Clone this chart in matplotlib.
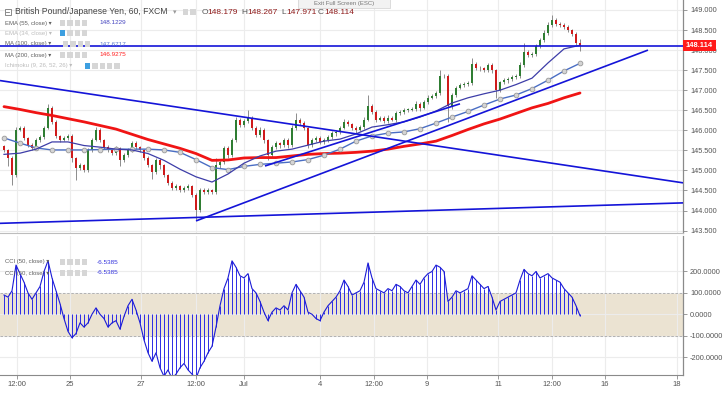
import matplotlib
matplotlib.use("Agg")
import matplotlib.pyplot as plt
import numpy as np
from matplotlib.patches import Rectangle

plt.rcParams['font.family'] = ['Liberation Sans', 'DejaVu Sans']

# ---------------- data ----------------
first_open = 145.60
closes = [
    145.51, 145.31, 144.89, 146.01, 146.06, 145.81, 145.63, 145.56, 145.76, 145.83,
    146.06, 146.56, 146.21, 145.86, 145.76, 145.81, 145.86, 145.31, 145.06, 145.13,
    145.01, 145.51, 145.76, 146.01, 145.76, 145.58, 145.51, 145.43, 145.56, 145.26,
    145.38, 145.51, 145.68, 145.58, 145.51, 145.31, 145.13, 144.96, 145.26, 145.13,
    144.89, 144.69, 144.56, 144.61, 144.51, 144.56, 144.61, 144.39, 144.01, 144.51,
    144.46, 144.51, 144.46, 145.13, 145.21, 145.56, 145.38, 145.76, 146.26, 146.13,
    146.23, 146.31, 146.06, 145.88, 146.01, 145.76, 145.38, 145.58, 145.68, 145.63,
    145.76, 145.63, 146.06, 146.26, 146.18, 146.06, 145.63, 145.76, 145.81, 145.71,
    145.76, 145.83, 145.93, 145.96, 146.06, 146.21, 146.16, 146.06, 146.01, 146.08,
    146.26, 146.61, 146.46, 146.26, 146.31, 146.23, 146.31, 146.26, 146.43, 146.46,
    146.51, 146.51, 146.53, 146.66, 146.56, 146.71, 146.81, 146.86, 146.93, 147.35,
    147.35, 146.60, 146.88, 147.06, 147.13, 147.16, 147.18, 147.65, 147.55, 147.55,
    147.50, 147.63, 147.50, 147.00, 147.20, 147.25, 147.28, 147.33, 147.35, 147.63,
    147.95, 147.88, 147.90, 148.10, 148.25, 148.43, 148.63, 148.75, 148.65, 148.63,
    148.58, 148.50, 148.40, 148.179, 148.114,
]
# upper / lower wick lengths in hundredths of a yen
upper_wick = [
    4, 3, 5, 6, 5, 4, 3, 5, 4, 6,
    5, 10, 5, 4, 3, 5, 6, 4, 3, 5,
    4, 5, 6, 7, 4, 3, 5, 4, 6, 3,
    5, 4, 5, 6, 4, 3, 5, 4, 6, 5,
    4, 3, 5, 4, 3, 5, 4, 3, 4, 5,
    4, 5, 3, 17, 6, 5, 4, 6, 7, 5,
    6, 20, 5, 4, 6, 4, 3, 6, 5, 4,
    5, 4, 6, 17, 5, 4, 3, 5, 6, 4,
    4, 5, 6, 4, 5, 7, 4, 3, 5, 4,
    6, 27, 5, 4, 5, 4, 6, 5, 6, 4,
    5, 4, 6, 7, 4, 5, 6, 5, 4, 15,
    6, 5, 4, 5, 6, 4, 5, 15, 6, 5,
    4, 6, 5, 3, 4, 5, 4, 6, 5, 7,
    23, 5, 4, 6, 5, 7, 6, 13, 5, 4,
    5, 4, 3, 4, 8.8,
]
lower_wick = [
    6, 20, 25, 5, 4, 6, 5, 4, 5, 4,
    5, 4, 6, 5, 4, 3, 5, 10, 30, 5,
    6, 4, 5, 3, 5, 4, 6, 5, 4, 15,
    5, 4, 6, 5, 4, 6, 5, 17, 4, 10,
    6, 5, 4, 5, 6, 4, 5, 6, 25, 5,
    6, 4, 5, 4, 6, 5, 7, 5, 4, 6,
    5, 4, 6, 5, 4, 7, 12, 5, 4, 6,
    5, 6, 4, 5, 4, 6, 7, 5, 4, 5,
    4, 5, 4, 6, 5, 4, 5, 6, 7, 4,
    5, 4, 6, 5, 4, 6, 5, 4, 5, 4,
    5, 6, 4, 5, 7, 4, 5, 4, 5, 6,
    5, 39, 6, 5, 4, 5, 6, 5, 4, 6,
    5, 4, 6, 19, 5, 4, 6, 5, 4, 5,
    6, 5, 4, 5, 6, 4, 5, 6, 4, 5,
    5, 4, 6, 4, 14.3,
]
# indicator values sampled every 4th bar
ema55 = [145.40, 145.43, 145.53, 145.71, 145.71, 145.62, 145.58, 145.53, 145.51, 145.42,
         145.25, 145.03, 144.84, 144.71, 144.91, 145.18, 145.36, 145.48, 145.53, 145.63,
         145.73, 145.78, 145.91, 146.08, 146.14, 146.21, 146.33, 146.48, 146.68, 146.81,
         146.91, 147.00, 147.14, 147.30, 147.68, 148.03, 148.12]
ma100 = [145.81, 145.68, 145.56, 145.51, 145.51, 145.51, 145.52, 145.53, 145.53, 145.53,
         145.51, 145.45, 145.27, 145.07, 145.02, 145.10, 145.15, 145.18, 145.21, 145.27,
         145.38, 145.53, 145.73, 145.86, 145.93, 145.96, 146.04, 146.18, 146.33, 146.47,
         146.63, 146.78, 146.88, 147.04, 147.25, 147.48, 147.67]
ma200 = [146.59, 146.52, 146.44, 146.37, 146.29, 146.21, 146.12, 146.03, 145.90, 145.77,
         145.66, 145.55, 145.42, 145.25, 145.26, 145.31, 145.32, 145.32, 145.36, 145.40,
         145.42, 145.43, 145.45, 145.48, 145.53, 145.60, 145.66, 145.73, 145.87, 146.02,
         146.16, 146.28, 146.42, 146.56, 146.67, 146.81, 146.93]
cci = [
    90, 80, 110, 230, 190, 150, 100, 70, 100, 130,
    200, 250, 170, 110, 50, -20, -80, -110, -90, -40,
    -60, -40, 0, 30, 0, -20, -60, -40, -30, -70,
    -10, 40, 70, 20, -40, -120, -180, -220, -180, -250,
    -290, -260, -300, -280, -250, -230, -260, -280, -300, -250,
    -220, -180, -150, -60, 40, 120, 170, 250, 220, 180,
    170, 190, 120, 100, 60, 10, -30, 10, 30, 20,
    40, 20, 100, 140, 110, 80, 10, 0, -20, -30,
    10, 40, 60, 80, 110, 160, 130, 90, 100, 110,
    150, 240, 170, 120, 110, 100, 120, 110, 140, 130,
    110, 100, 130, 160, 140, 170, 190, 200, 230, 220,
    200, 60, 80, 110, 100, 110, 120, 180, 160, 140,
    120, 130, 80, 20, 60, 70, 80, 90, 100, 160,
    210, 190, 180, 200, 170, 180, 190, 170, 160, 150,
    120, 100, 80, 40, -6.5385,
]
# drawn trend lines: (bar0, price0, bar1, price1)
trend_lines = [
    (-1, 147.24, 169.75, 144.69),
    (-1, 143.68, 169.75, 144.19),
    (48, 143.74, 161, 148.00),
    (65.25, 145.11, 114, 146.66),
    (-1, 148.114, 169.75, 148.114),
]
last_price = 148.114
time_labels = ['12:00', '25', '27', '12:00', 'Jul', '4', '12:00', '9', '11', '12:00', '16', '18']
price_ticks = [143.5, 144.0, 144.5, 145.0, 145.5, 146.0, 146.5, 147.0, 147.5, 148.0, 148.5, 149.0]
cci_ticks = [-200, -100, 0, 100, 200]

# ---------------- layout ----------------
W, H = 725, 393
fig = plt.figure(figsize=(7.25, 3.93), dpi=100)
fig.patch.set_facecolor('white')

def fx(px):
    return px / W

def fy(py):
    return 1 - py / H

ax = fig.add_axes([0, fy(233), fx(683), 233 / H])
axc = fig.add_axes([0, fy(375), fx(683), (375 - 236) / H])

n = len(closes)
idx = np.arange(n)
c = np.array(closes)
o = np.r_[first_open, c[:-1]]
hi = np.maximum(o, c) + np.array(upper_wick) / 100.0
lo = np.minimum(o, c) - np.array(lower_wick) / 100.0
up = c >= o

XL = (-1, 169.75)
tick_pos = [3.25, 16.5, 34.25, 48, 60, 79, 92.5, 105.75, 123.5, 137, 150.25, 168.25]
grid_c = '#ececec'
axis_c = '#8a8a8a'
lab_c = '#555555'

for a in (ax, axc):
    a.set_xlim(*XL)
    a.set_facecolor('white')
    for s in ('top', 'left'):
        a.spines[s].set_visible(False)
    a.spines['right'].set_color(axis_c)
    a.spines['bottom'].set_color('#bdbdbd')
    a.spines['right'].set_linewidth(0.9)
    a.set_xticks(tick_pos)
    a.xaxis.grid(True, color=grid_c, lw=0.8)
    a.yaxis.grid(True, color=grid_c, lw=0.8)
    a.set_axisbelow(True)
    a.yaxis.tick_right()
    a.tick_params(axis='y', labelsize=5.3, colors=axis_c, labelcolor=lab_c, length=3, width=0.6, pad=2)

ax.set_ylim(143.439, 149.249)
ax.set_yticks(price_ticks)
ax.set_yticklabels(['%.3f' % v for v in price_ticks])
ax.tick_params(axis='x', length=0, labelbottom=False)

# candles
ax.vlines(idx, lo, hi, color='#8c8c8c', lw=0.7, zorder=2)
body_b = np.minimum(o, c)
body_h = np.maximum(np.abs(c - o), 0.012)
ax.bar(idx, body_h, bottom=body_b, width=0.55,
       color=np.where(up, '#2f7d32', '#cf1b1b'), linewidth=0, zorder=3)

# indicators
sidx = idx[::4]
ax.plot(sidx, ma200, color='#f01414', lw=2.0, zorder=4, solid_capstyle='round')
ax.plot(sidx, ma100, color='#4a6ec4', lw=1.0, zorder=4,
        marker='o', ms=3.4, mfc='#d4d4d4', mec='#9a9a9a', mew=0.6)
ax.plot(sidx, ema55, color='#3d3da8', lw=0.9, zorder=4)

for (b0, p0, b1, p1) in trend_lines:
    ax.plot([b0, b1], [p0, p1], color='#1414d8', lw=1.2, zorder=5, solid_capstyle='butt')

# CCI panel
axc.set_ylim(-284, 366)
axc.set_yticks(cci_ticks)
axc.set_yticklabels(['%.4f' % v for v in cci_ticks])
axc.axhspan(-100, 100, color='#ebe3d2', zorder=0.5, lw=0)
for lv in (100, -100):
    axc.axhline(lv, color='#a8a8a8', lw=0.6, ls=(0, (3, 2)), zorder=1)
axc.vlines(idx, 0, cci, color='#2b2be6', lw=0.7, zorder=2)
axc.plot(idx, cci, color='#1c1cd6', lw=0.8, zorder=3)
axc.set_xticklabels(time_labels)
axc.tick_params(axis='x', labelsize=5.5, colors=axis_c, labelcolor=lab_c, length=3, width=0.6, pad=1.5)
axc.spines['bottom'].set_color(axis_c)

# ---------------- overlay (legend texts, price label) ----------------
ov = fig.add_axes([0, 0, 1, 1])
ov.set_xlim(0, W)
ov.set_ylim(H, 0)
ov.axis('off')

def icons(x0, y0, count, blue_first=False, size=5.5, gap=7.3):
    for k in range(count):
        fc = '#3d9fe0' if (blue_first and k == 0) else '#d6d6d6'
        ov.add_patch(Rectangle((x0 + k * gap, y0 - size / 2), size, size, fc=fc, ec='none'))

# title row
ov.add_patch(Rectangle((5, 9), 6, 6, fc='white', ec='#777777', lw=0.6))
ov.plot([6.5, 9.5], [12, 12], color='#777777', lw=0.6)
ov.text(15, 12, 'British Pound/Japanese Yen, 60, FXCM', fontsize=6.2, color='#444444', va='center')
ov.text(173, 12, '▾', fontsize=5, color='#999999', va='center', family=['DejaVu Sans'])
icons(183, 12, 2)
ohlc_parts = [('O', 202, '#555555'), ('148.179', 207, '#8e1a1a'), ('H', 241, '#555555'), ('148.267', 247, '#8e1a1a'),
              ('L', 281, '#555555'), ('147.971', 286, '#8e1a1a'), ('C', 318, '#555555'), ('148.114', 324, '#8e1a1a')]
for t, x, col in ohlc_parts:
    ov.text(x, 12, t, fontsize=6.0, color=col, va='center')

# Exit full screen tooltip
ov.add_patch(Rectangle((298, -1), 92, 8.5, fc='#f2f2f2', ec='#d0d0d0', lw=0.5))
ov.text(344, 3.3, 'Exit Full Screen (ESC)', fontsize=4.3, color='#777777', ha='center', va='center')

rows = [
    ('EMA (55, close) ▾', 23, '#606060', '148.1229', '#4646c0', 60, 4, False),
    ('EMA (34, close) ▾', 33, '#bcbcbc', None, None, 60, 4, True),
    ('MA (100, close) ▾', 44, '#606060', '147.6717', '#5a78cc', 63, 4, False),
    ('MA (200, close) ▾', 55, '#606060', '146.9275', '#ff2020', 60, 4, False),
    ('Ichimoku (9, 26, 52, 26) ▾', 66, '#bcbcbc', None, None, 85, 5, True),
    ('CCI (50, close) ▾', 262, '#606060', '-6.5385', '#3535dd', 60, 4, False),
    ('CCI (50, close) ▾', 273, '#606060', '-6.5385', '#3535dd', 60, 4, False),
]
for label, y, col, val, vcol, ix, cnt, bf in rows:
    ov.text(5, y, label, fontsize=4.3, color=col, va='center')
    icons(ix, y, cnt, blue_first=bf)
    if val is not None:
        vx = 99 if not val.startswith('-') else 97
        ov.text(vx, y, val, fontsize=4.6, color=vcol, va='center')

# last price label on price scale
yl = 10 + (149 - last_price) * 40.1
ov.add_patch(Rectangle((683, yl - 5.3), 33, 10.6, fc='#ff1a1a', ec='none'))
ov.text(699.5, yl, '148.114', fontsize=5.4, color='white', fontweight='bold', ha='center', va='center')

fig.savefig('out.png', dpi=100, facecolor='white')
